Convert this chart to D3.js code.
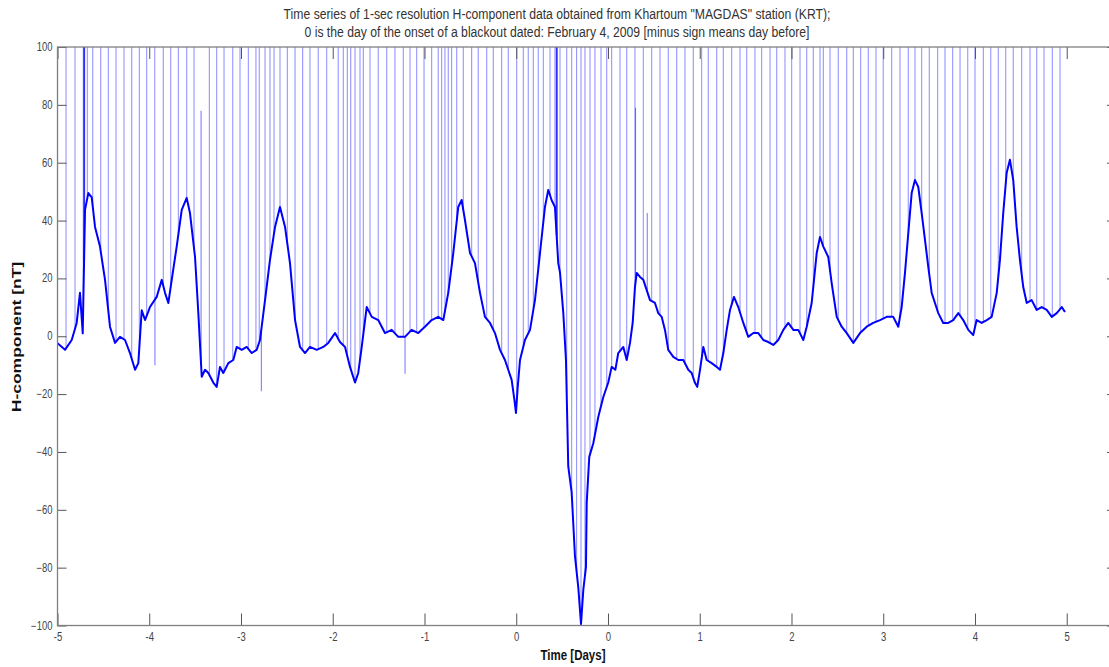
<!DOCTYPE html>
<meta charset="utf-8">

<!-- Load d3.js -->
<script src="https://d3js.org/d3.v7.min.js"></script>

<style>
  body { margin: 0; background: #fff; }
  text { font-family: "Liberation Sans", Arial, sans-serif; }
</style>

<div id="my_dataviz"></div>

<script>

// x values are days counted from the first sample of the record,
// the tick labels are the ones printed on the original figure
var tickDays   = [0, 1, 2, 3, 4, 5, 6, 7, 8, 9, 10, 11];
var tickLabels = ["-5", "-4", "-3", "-2", "-1", "0", "0", "1", "2", "3", "4", "5"];
var yTicks     = [-100, -80, -60, -40, -20, 0, 20, 40, 60, 80, 100];

// H-component trace
var curveT = [0.000, 0.082, 0.155, 0.209, 0.245, 0.260, 0.275, 0.300, 0.336, 0.373,
  0.409, 0.463, 0.518, 0.572, 0.627, 0.681, 0.736, 0.790, 0.845, 0.881,
  0.918, 0.954, 1.008, 1.081, 1.136, 1.172, 1.208, 1.245, 1.299, 1.354,
  1.408, 1.444, 1.499, 1.535, 1.572, 1.608, 1.644, 1.698, 1.735, 1.771,
  1.807, 1.862, 1.916, 1.953, 2.008, 2.062, 2.117, 2.171, 2.207, 2.262,
  2.316, 2.371, 2.425, 2.480, 2.534, 2.589, 2.643, 2.698, 2.752, 2.825,
  2.897, 2.951, 3.025, 3.079, 3.134, 3.188, 3.243, 3.278, 3.316, 3.370,
  3.425, 3.496, 3.569, 3.642, 3.714, 3.787, 3.860, 3.932, 4.005, 4.078,
  4.150, 4.205, 4.259, 4.314, 4.368, 4.405, 4.441, 4.496, 4.550, 4.605,
  4.659, 4.714, 4.768, 4.823, 4.877, 4.913, 4.950, 4.980, 4.997, 5.015,
  5.041, 5.095, 5.150, 5.204, 5.259, 5.313, 5.349, 5.386, 5.422, 5.458,
  5.477, 5.513, 5.542, 5.567, 5.604, 5.640, 5.676, 5.706, 5.731, 5.760,
  5.768, 5.796, 5.840, 5.894, 5.949, 6.003, 6.040, 6.080, 6.112, 6.167,
  6.204, 6.240, 6.269, 6.294, 6.313, 6.349, 6.385, 6.458, 6.512, 6.548,
  6.585, 6.621, 6.657, 6.712, 6.766, 6.821, 6.875, 6.912, 6.948, 6.973,
  7.003, 7.039, 7.076, 7.130, 7.185, 7.221, 7.257, 7.294, 7.330, 7.373,
  7.420, 7.475, 7.529, 7.584, 7.638, 7.693, 7.747, 7.802, 7.856, 7.911,
  7.965, 8.020, 8.074, 8.129, 8.166, 8.220, 8.275, 8.311, 8.347, 8.401,
  8.438, 8.493, 8.547, 8.602, 8.674, 8.747, 8.820, 8.891, 8.965, 9.038,
  9.109, 9.164, 9.201, 9.237, 9.273, 9.310, 9.346, 9.382, 9.419, 9.455,
  9.491, 9.528, 9.564, 9.600, 9.654, 9.709, 9.763, 9.818, 9.872, 9.927,
  9.981, 10.018, 10.073, 10.128, 10.182, 10.237, 10.272, 10.308, 10.345, 10.381,
  10.417, 10.454, 10.490, 10.526, 10.564, 10.618, 10.673, 10.727, 10.782, 10.837,
  10.891, 10.946, 10.981];
var curveH = [-2.4, -4.7, -1.3, 4.6, 15, 8, 1, 43.7, 49.5, 48,
  37.8, 31, 19.5, 3.3, -2.3, -0.2, -1.3, -5.8, -11.6, -9.3,
  9, 5.6, 10.1, 13.6, 19.5, 15, 11.5, 19.5, 31, 43.7,
  47.8, 42.6, 27.4, 8, -14, -11.6, -12.7, -16, -17.5, -10.6,
  -12.7, -9.3, -8.2, -3.7, -4.7, -3.7, -5.8, -4.7, -1.3, 12.5,
  26.4, 37.8, 44.7, 37.8, 25.3, 5.6, -3.7, -5.8, -3.7, -4.7,
  -3.7, -2.3, 1.1, -2, -3.7, -10.6, -16, -12.7, -3.7, 10.1,
  6.7, 5.6, 1.1, 2.2, -0.2, -0.2, 2.2, 1.1, 3.3, 5.6,
  6.7, 5.6, 15, 28.8, 44.7, 47.1, 40.2, 28.8, 25.3, 15,
  6.7, 4.6, 1.1, -4.7, -8.2, -11.6, -15.1, -22, -26.5, -18,
  -8.2, -1.3, 2.2, 12.5, 28.8, 44.7, 50.6, 47, 44.7, 25.3,
  22, 8, -8.2, -45, -54, -76, -86.7, -99.5, -87.7, -79.7,
  -57.6, -41.7, -37, -27.9, -21, -16, -10.6, -11.6, -5.8, -3.7,
  -8.2, -2.3, 4.6, 17, 21.9, 20.5, 19.5, 12.5, 11.5, 8,
  6.7, 2.2, -4.7, -7.1, -8.2, -8.2, -11.6, -12.7, -16.1, -17.5,
  -11.6, -3.7, -8.2, -9.3, -10.6, -11.6, -5.8, 2.2, 9.1, 13.6,
  10.1, 4.6, -0.2, 1.1, 1.1, -1.3, -2, -3, -1.3, 2.2,
  4.6, 2.2, 2.2, -1.3, 3.3, 11.5, 28.8, 34.3, 31, 27.4,
  18.4, 6.7, 3.3, 1.1, -2.3, 1.1, 3.3, 4.6, 5.6, 6.7,
  6.7, 3.3, 10.1, 21.9, 35.6, 49.5, 54, 51.6, 42.6, 33.3,
  24, 15, 11.5, 8, 4.6, 4.6, 5.6, 8, 5.6, 2.2,
  0.4, 5.6, 4.6, 5.6, 6.7, 15, 26.4, 42.6, 56.4, 61,
  54, 37.8, 26.4, 17, 11.5, 12.5, 9.1, 10.1, 9.1, 6.7,
  8, 10.1, 8.4];

// times of the spikes that run off the top of the plot
var spikeT = [0.000, 0.093, 0.191, 0.281, 0.296, 0.325, 0.384, 0.471, 0.554, 0.638,
  0.725, 0.809, 0.892, 0.972, 1.060, 1.153, 1.234, 1.317, 1.408, 1.488,
  1.655, 1.735, 1.815, 1.910, 1.989, 2.080, 2.163, 2.199, 2.262, 2.316,
  2.360, 2.425, 2.505, 2.589, 2.672, 2.752, 2.842, 2.934, 3.060, 3.115,
  3.159, 3.196, 3.243, 3.297, 3.333, 3.406, 3.496, 3.588, 3.678, 3.769,
  3.842, 3.915, 3.995, 4.078, 4.150, 4.187, 4.223, 4.259, 4.296, 4.351,
  4.423, 4.514, 4.586, 4.678, 4.750, 4.841, 4.913, 5.005, 5.077, 5.131,
  5.186, 5.240, 5.295, 5.368, 5.422, 5.447, 5.477, 5.550, 5.604, 5.658,
  5.706, 5.749, 5.804, 5.858, 5.924, 5.986, 6.040, 6.131, 6.204, 6.294,
  6.385, 6.476, 6.567, 6.657, 6.749, 6.839, 6.930, 7.021, 7.093, 7.185,
  7.257, 7.348, 7.439, 7.512, 7.602, 7.675, 7.766, 7.839, 7.929, 8.002,
  8.093, 8.166, 8.238, 8.311, 8.347, 8.420, 8.510, 8.602, 8.674, 8.754,
  8.837, 8.921, 9.000, 9.092, 9.183, 9.273, 9.346, 9.419, 9.502, 9.593,
  9.673, 9.757, 9.837, 9.921, 10.000, 10.091, 10.172, 10.254, 10.335, 10.417,
  10.509, 10.600, 10.673, 10.752, 10.843, 10.927];

// a few spikes drawn darker in the picture
var darkSpikeT = [0.290, 5.440];

// shorter spikes: time and the value they reach
var shortT = [1.062, 1.565, 2.222, 3.788, 6.300, 6.428];
var shortH = [-10, 78, -19, -13, 79, 42.6];

// set the dimensions and margins of the graph
var margin = {top: 47, left: 57.5},
    width = 1058.5,
    height = 578.5;

var svg = d3.select("#my_dataviz")
  .append("svg")
    .attr("width", 1109)
    .attr("height", 667);

var g = svg.append("g")
    .attr("transform", "translate(" + margin.left + "," + margin.top + ")");

var x = d3.scaleLinear()
  .domain([0, 11.537])
  .range([0, width]);
var y = d3.scaleLinear()
  .domain([-100, 100])
  .range([height, 0]);

g.append("clipPath").attr("id", "clip")
  .append("rect").attr("width", width).attr("height", height);

var plot = g.append("g").attr("clip-path", "url(#clip)");

// value of the trace at a given time, used for the foot of each spike
var bis = d3.bisector(function(d) { return d; }).left;
function hAt(t) {
  var i = bis(curveT, t);
  if (i <= 0) return curveH[0];
  if (i >= curveT.length) return curveH[curveH.length - 1];
  var t0 = curveT[i - 1], t1 = curveT[i];
  var k = (t - t0) / (t1 - t0);
  return curveH[i - 1] + k * (curveH[i] - curveH[i - 1]);
}

function spikes(cls, data, top, opacity, w) {
  plot.selectAll("." + cls)
    .data(data)
    .enter()
    .append("line")
      .attr("class", cls)
      .attr("x1", function(d) { return x(d); })
      .attr("x2", function(d) { return x(d); })
      .attr("y1", function(d) { return y(hAt(d)); })
      .attr("y2", top)
      .attr("stroke", "#0000ff")
      .attr("stroke-opacity", opacity)
      .attr("stroke-width", w);
}

spikes("spike", spikeT, y(100), 0.42, 1.1);
spikes("dark", darkSpikeT, y(100), 0.8, 1.6);
spikes("short", shortT, function(d, i) { return y(shortH[i]); }, 0.5, 1.1);

var line = d3.line()
  .x(function(d) { return x(d); })
  .y(function(d, i) { return y(curveH[i]); });

plot.append("path")
  .datum(curveT)
  .attr("fill", "none")
  .attr("stroke", "#0000ff")
  .attr("stroke-width", 2)
  .attr("stroke-linejoin", "round")
  .attr("d", line);

// axes, MATLAB style: ticks pointing inwards on all four sides
function styleAxis(a) {
  a.select(".domain").remove();
  a.selectAll(".tick line").attr("stroke", "#555");
  a.selectAll(".tick text")
    .attr("fill", "#444")
    .style("font-size", "9.5px");
}

var xAxis = g.append("g")
  .attr("transform", "translate(0," + height + ")")
  .call(d3.axisBottom(x).tickValues(tickDays)
    .tickFormat(function(d, i) { return tickLabels[i]; })
    .tickSizeInner(-12).tickSizeOuter(0).tickPadding(6))
  .call(styleAxis);
xAxis.selectAll(".tick text").attr("transform", "scale(1,1.25)");

g.append("g")
  .call(d3.axisTop(x).tickValues(tickDays).tickFormat("")
    .tickSizeInner(-12).tickSizeOuter(0))
  .call(styleAxis);

var yAxis = g.append("g")
  .call(d3.axisLeft(y).tickValues(yTicks)
    .tickSizeInner(-9).tickSizeOuter(0).tickPadding(5))
  .call(styleAxis);
yAxis.selectAll(".tick text").attr("transform", "scale(1,1.25)")
  .attr("y", 0)
  .attr("dy", "0.3em");

g.append("g")
  .attr("transform", "translate(" + width + ",0)")
  .call(d3.axisRight(y).tickValues(yTicks).tickFormat("")
    .tickSizeInner(-9).tickSizeOuter(0))
  .call(styleAxis);

g.append("rect")
  .attr("width", width)
  .attr("height", height)
  .attr("fill", "none")
  .attr("stroke", "#808080")
  .attr("stroke-width", 1.3);

// title and axis labels
var title = svg.append("g").attr("transform", "translate(557,0)");
title.append("text")
  .attr("transform", "translate(0,19) scale(1,1.2)")
  .attr("text-anchor", "middle")
  .attr("fill", "#333")
  .style("font-size", "12.2px")
  .text("Time series of 1-sec resolution H-component data obtained from Khartoum \"MAGDAS\" station (KRT);");
title.append("text")
  .attr("transform", "translate(0,36.5) scale(1,1.2)")
  .attr("text-anchor", "middle")
  .attr("fill", "#333")
  .style("font-size", "12.2px")
  .text("0 is the day of the onset of a blackout dated: February 4, 2009 [minus sign means day before]");

svg.append("text")
  .attr("transform", "translate(573,660) scale(1,1.3)")
  .attr("text-anchor", "middle")
  .attr("fill", "#111")
  .style("font-size", "11.5px")
  .style("font-weight", "bold")
  .text("Time [Days]");

svg.append("text")
  .attr("transform", "translate(21,337) rotate(-90) scale(1.4,1)")
  .attr("text-anchor", "middle")
  .attr("fill", "#111")
  .style("font-size", "12.5px")
  .style("font-weight", "bold")
  .text("H-component [nT]");

</script>
